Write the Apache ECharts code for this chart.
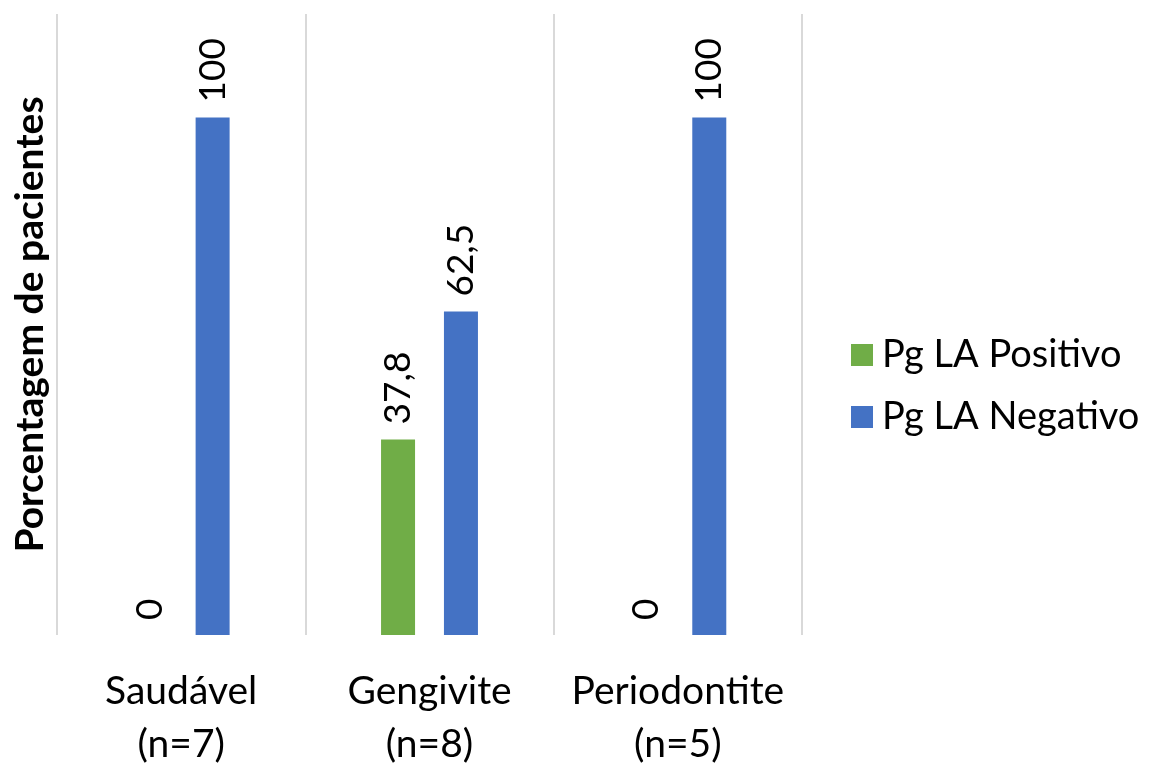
<!DOCTYPE html>
<html><head><meta charset="utf-8">
<script src="https://cdn.jsdelivr.net/npm/echarts@6/dist/echarts.min.js"></script>
<style>html,body{margin:0;padding:0;background:#fff}#c{width:1152px;height:765px}</style>
</head><body><div id="c"></div>
<script>
const categories = ['Saudável\n(n=7)', 'Gengivite\n(n=8)', 'Periodontite\n(n=5)'];
const seriesNames = ['Pg LA Positivo', 'Pg LA Negativo'];
const positivo = [0, 37.8, 0];
const negativo = [100, 62.5, 100];
const yTitle = 'Porcentagem de pacientes';

const FONT = 'Lato, "Open Sans", sans-serif';
const chart = echarts.init(document.getElementById('c'));
const labelCfg = {
  show: true, position: 'top', rotate: 90, align: 'left', verticalAlign: 'middle',
  distance: 15, fontSize: 37, fontFamily: FONT, color: '#000',
  formatter: p => String(p.value).replace('.', ',')
};
chart.setOption({
  animation: false,
  textStyle: { fontFamily: FONT },
  grid: { left: 57, right: 350, top: 14, bottom: 130, outerBoundsMode: 'none', containLabel: false },
  legend: {
    orient: 'vertical', left: 846, top: 331, icon: 'rect', itemWidth: 22, itemHeight: 22,
    itemGap: 24, data: seriesNames,
    textStyle: { fontSize: 38, fontFamily: FONT, color: '#000', padding: [0, 0, 0, 4] }
  },
  xAxis: {
    type: 'category', data: categories,
    axisLine: { show: false }, axisTick: { show: false },
    splitLine: { show: true, lineStyle: { color: '#d9d9d9', width: 2 } },
    axisLabel: { fontSize: 39, fontFamily: FONT, color: '#000', lineHeight: 53, margin: 30, interval: 0 }
  },
  yAxis: {
    type: 'value', min: 0, max: 120,
    axisLine: { show: false }, axisTick: { show: false }, axisLabel: { show: false },
    splitLine: { show: false },
    name: yTitle, nameLocation: 'middle', nameGap: 7,
    nameTextStyle: { fontSize: 39, fontWeight: 'bold', fontFamily: FONT, color: '#000' }
  },
  series: [
    { name: seriesNames[0], type: 'bar', data: positivo, barWidth: 34, barGap: '85%',
      itemStyle: { color: '#70AD47' }, label: labelCfg },
    { name: seriesNames[1], type: 'bar', data: negativo, barWidth: 34,
      itemStyle: { color: '#4472C4' }, label: labelCfg }
  ]
});
</script></body></html>
